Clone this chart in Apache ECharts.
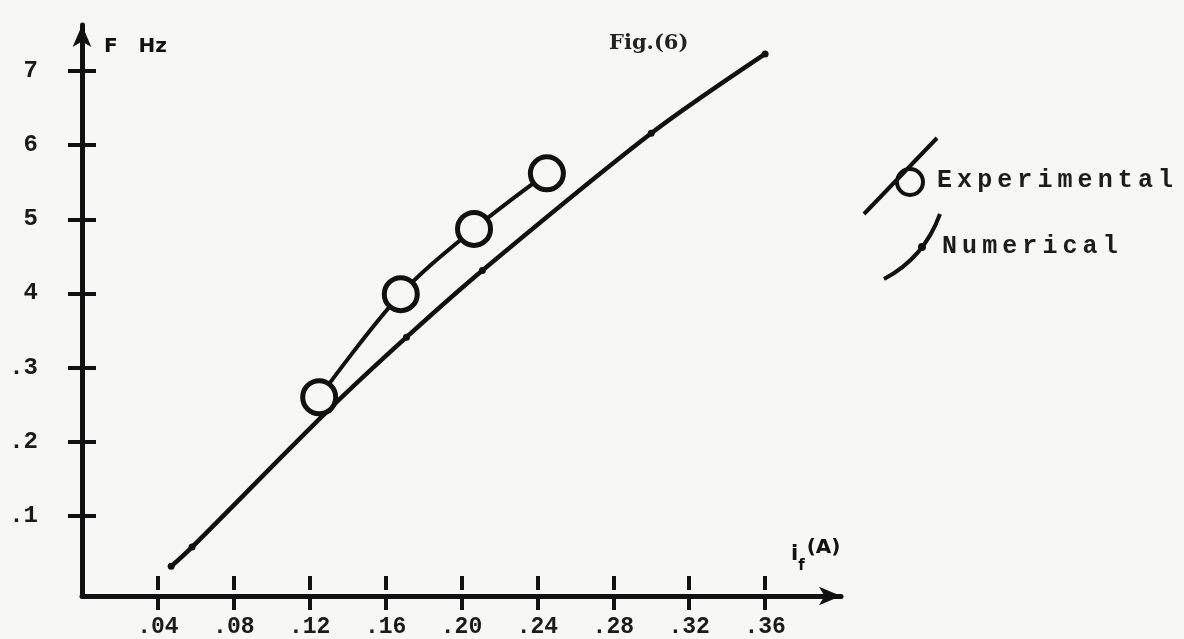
<!DOCTYPE html>
<html>
<head>
<meta charset="utf-8">
<script src="https://cdn.jsdelivr.net/npm/echarts@6/dist/echarts.min.js"></script>
<style>html,body{margin:0;padding:0;background:#f7f7f5;}#c{width:1184px;height:639px;}</style>
</head>
<body>
<div id="c"></div>
<script>
const xTickValues = [0.04, 0.08, 0.12, 0.16, 0.20, 0.24, 0.28, 0.32, 0.36];
const xTickLabels = ['.04', '.08', '.12', '.16', '.20', '.24', '.28', '.32', '.36'];
const yTickValues = [0.1, 0.2, 0.3, 0.4, 0.5, 0.6, 0.7];
const yTickLabels = ['.1', '.2', '.3', '4', '5', '6', '7'];

const numericalX = [0.047, 0.058, 0.130, 0.171, 0.211, 0.300, 0.360];
const numericalY = [0.032, 0.058, 0.243, 0.341, 0.431, 0.616, 0.723];
const experimentalX = [0.125, 0.168, 0.2066, 0.245];
const experimentalY = [0.260, 0.399, 0.487, 0.562];

const ink = '#111';
const monoFont = '"Liberation Mono", "DejaVu Sans Mono", monospace';

function pairs(xs, ys) { return xs.map((x, i) => [x, ys[i]]); }
function labelFor(values, labels) {
  return v => {
    const i = values.findIndex(t => Math.abs(t - v) < 1e-6);
    return i >= 0 ? labels[i] : '';
  };
}
function spaced(name) {
  return name.split('').map(c => '{l|' + c + '}').join('{s| }');
}

const xBase = {
  type: 'value', min: 0, max: 0.40, position: 'bottom',
  axisLine: { onZero: false, lineStyle: { color: ink, width: 5, cap: 'round' }, symbol: ['none', 'arrow'], symbolSize: [14, 22] },
  splitLine: { show: false }
};
const yBase = {
  type: 'value', min: -0.008, max: 0.762, position: 'left',
  axisLine: { onZero: false, lineStyle: { color: ink, width: 5, cap: 'round' }, symbol: ['none', 'arrow'], symbolSize: [14, 22] },
  splitLine: { show: false }
};

const legendRich = {
  l: { fontFamily: monoFont, fontWeight: 'bold', fontSize: 25, color: '#1c1c1c' },
  s: { fontFamily: 'DejaVu Sans', fontSize: 16, color: '#222' }
};

const chart = echarts.init(document.getElementById('c'));
chart.setOption({
  backgroundColor: '#f7f7f5',
  animation: false,
  title: {
    text: 'Fig.(6)', left: 604, top: 28,
    textStyle: { fontFamily: '"DejaVu Serif", serif', fontWeight: 'bold', fontSize: 21, color: '#222' }
  },
  grid: { left: 82, right: 343, top: 25, bottom: 42, containLabel: false },
  xAxis: [
    Object.assign({}, xBase, {
      name: '{i|i}{f|f}{a|(A)}',
      nameLocation: 'end', nameGap: -50,
      nameTextStyle: {
        align: 'left', verticalAlign: 'bottom', padding: [0, 0, 22, 0],
        rich: {
          i: { fontFamily: 'DejaVu Sans', fontWeight: 'bold', fontSize: 21, color: ink },
          f: { fontFamily: 'DejaVu Sans', fontWeight: 'bold', fontSize: 15, color: ink, padding: [24, 2, 0, 0] },
          a: { fontFamily: 'DejaVu Sans', fontWeight: 'bold', fontSize: 20, color: ink, padding: [0, 0, 14, 0] }
        }
      },
      axisTick: { show: true, inside: false, length: 14, customValues: xTickValues, lineStyle: { color: ink, width: 4 } },
      axisLabel: {
        show: true, customValues: xTickValues, margin: 20,
        formatter: labelFor(xTickValues, xTickLabels),
        fontFamily: monoFont, fontWeight: 'bold', fontSize: 23, color: '#1a1a1a'
      }
    }),
    Object.assign({}, xBase, {
      axisLine: { show: false },
      axisTick: { show: true, inside: true, length: 14, customValues: xTickValues, lineStyle: { color: ink, width: 4 } },
      axisLabel: { show: false }
    })
  ],
  yAxis: [
    Object.assign({}, yBase, {
      name: 'F   Hz',
      nameLocation: 'end', nameGap: -22,
      nameTextStyle: { align: 'left', verticalAlign: 'middle', padding: [0, 0, 0, 22], fontFamily: 'DejaVu Sans', fontWeight: 'bold', fontSize: 20, color: ink },
      axisTick: { show: true, inside: false, length: 14, customValues: yTickValues, lineStyle: { color: ink, width: 4 } },
      axisLabel: {
        show: true, customValues: yTickValues, margin: 44,
        formatter: labelFor(yTickValues, yTickLabels),
        fontFamily: monoFont, fontWeight: 'bold', fontSize: 24, color: '#1a1a1a'
      }
    }),
    Object.assign({}, yBase, {
      axisLine: { show: false },
      axisTick: { show: true, inside: true, length: 14, customValues: yTickValues, lineStyle: { color: ink, width: 4 } },
      axisLabel: { show: false }
    })
  ],
  legend: [
    {
      left: 862, top: 136, padding: 0, orient: 'vertical',
      itemWidth: 73, itemHeight: 76,
      data: [{ name: 'Experimental', icon: 'path://M0,76 L73,0 M59,44 A13,13 0 1,1 33,44 A13,13 0 1,1 59,44 Z' }],
      itemStyle: { color: 'rgba(0,0,0,0)', borderColor: ink, borderWidth: 4 },
      formatter: spaced,
      textStyle: { rich: legendRich, padding: [10, 0, 0, -5] }
    },
    {
      left: 882, top: 212, padding: 0, orient: 'vertical',
      itemWidth: 56, itemHeight: 65,
      data: [{ name: 'Numerical', icon: 'path://M0,65 Q40,44 56,0 M40,33 A2,2 0 1,1 36,33 A2,2 0 1,1 40,33 Z' }],
      itemStyle: { color: 'rgba(0,0,0,0)', borderColor: ink, borderWidth: 4 },
      formatter: spaced,
      textStyle: { rich: legendRich, padding: [0, 0, 0, -3] }
    }
  ],
  series: [
    {
      name: 'Numerical', type: 'line', xAxisIndex: 0, yAxisIndex: 0,
      data: pairs(numericalX, numericalY),
      smooth: 0.3, symbol: 'circle', symbolSize: 7,
      lineStyle: { color: ink, width: 4.5 },
      itemStyle: { color: ink }
    },
    {
      name: 'Experimental', type: 'line', xAxisIndex: 0, yAxisIndex: 0,
      data: pairs(experimentalX, experimentalY),
      smooth: 0.35, symbol: 'circle', symbolSize: 33,
      lineStyle: { color: ink, width: 4 },
      itemStyle: { color: '#f7f7f5', borderColor: ink, borderWidth: 5 },
      z: 3
    }
  ]
});
</script>
</body>
</html>
